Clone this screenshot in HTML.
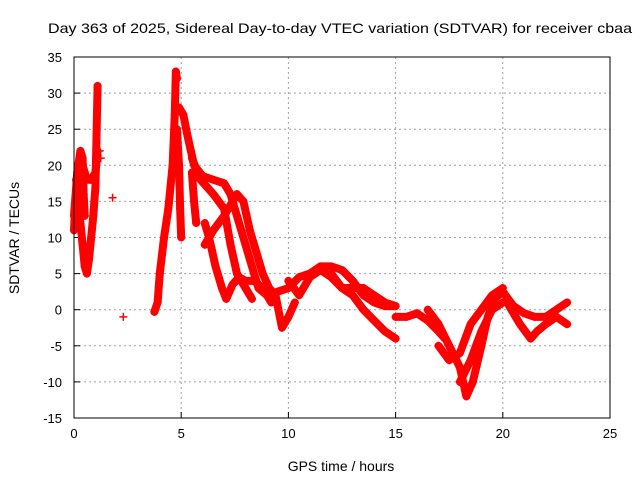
<!DOCTYPE html>
<html><head><meta charset="utf-8"><style>
body{margin:0;background:#fff}
svg text{font-family:"Liberation Sans",sans-serif;fill:#000}
</style></head><body>
<svg id="chart" width="640" height="480" xmlns="http://www.w3.org/2000/svg">
<rect width="640" height="480" fill="#fff"/>
<text x="340" y="33" font-size="14" text-anchor="middle" textLength="584" lengthAdjust="spacingAndGlyphs">Day 363 of 2025, Sidereal Day-to-day VTEC variation (SDTVAR) for receiver cbaa</text>
<g id="grid"></g>
<g id="ticks"></g>
<g id="series"></g>
<rect x="74" y="57" width="536" height="361" fill="none" stroke="#000" stroke-width="1"/>
<text transform="translate(19,238) rotate(-90)" font-size="14" text-anchor="middle">SDTVAR / TECUs</text>
<text x="341" y="471" font-size="14" text-anchor="middle">GPS time / hours</text>
</svg>
<script>
const xTicks = [0,5,10,15,20,25];
const yTicks = [35,30,25,20,15,10,5,0,-5,-10,-15];
const trackEarlyA = [[0,11],[0.05,14],[0.1,16],[0.2,17],[0.3,18],[0.4,20],[0.5,19],[0.6,18],[0.8,18],[1.0,19],[1.1,22]];
const trackEarlyB = [[0.1,18],[0.2,15],[0.3,12],[0.4,9],[0.5,6],[0.6,5],[0.7,7],[0.8,10],[0.9,13],[1.0,17],[1.05,24],[1.1,31]];
const trackEarlyC = [[0,13],[0.15,19],[0.3,22],[0.4,21],[0.45,16],[0.5,13]];
const trackIsolated = [[1.2,22],[1.25,21],[1.8,15.5],[2.3,-1]];
const trackRise = [[3.75,-0.3],[3.9,1],[4.0,5],[4.2,10],[4.4,14],[4.6,20],[4.7,27],[4.75,33],[4.8,32]];
const trackDrop = [[4.8,25],[4.9,20],[4.95,14],[5.0,10]];
const trackDrop2 = [[5.5,19],[5.6,15],[5.7,12]];
const trackMain = [[4.9,28],[5.1,27],[5.3,24],[5.6,20],[6.0,18.5],[6.5,18],[7.0,17.5],[7.3,16],[7.6,13],[8.0,9],[8.3,6],[8.6,3],[9.0,2],[9.5,2.5],[10,3]];
const trackS2 = [[5.5,21],[5.9,18],[6.2,17],[6.5,16],[7.0,14],[7.3,9],[7.6,5],[8.0,3],[8.3,1.5]];
const trackS3 = [[6.1,12],[6.3,10],[6.6,6],[6.9,3],[7.1,1.5],[7.4,3.5],[7.7,4.5],[8.0,4],[8.4,4],[8.8,3],[9.2,1]];
const trackS4 = [[6.1,9],[6.5,11],[7.0,13],[7.6,16],[7.9,15],[8.2,11],[8.5,8],[8.8,5],[9.1,3],[9.4,2]];
const trackDip = [[9.4,2],[9.7,-2.5],[10.0,-1],[10.3,1]];
const trackMid1 = [[10,3],[10.5,4.5],[11,5],[11.5,6],[12,6],[12.5,5.5],[13,4],[13.5,2],[14,1],[14.5,0.5],[15,0.5]];
const trackMid2 = [[12,5],[12.5,3],[13,2],[13.5,0],[14,-1.5],[14.5,-3],[15,-4]];
const trackMid3 = [[10,4],[10.5,2],[11,4.5],[11.5,5.5],[12,4.5],[12.5,3],[13,3],[13.5,3],[14,2],[14.5,1],[15,0.5]];
const trackLate1 = [[15,-1],[15.5,-1],[16,-0.5],[16.5,-1.5],[17,-3],[17.3,-4]];
const trackLate2 = [[16.5,0],[17,-2],[17.5,-5],[18,-8],[18.3,-12],[18.6,-10],[19,-5],[19.3,-1],[19.6,1.5],[20,2.5]];
const trackLate3 = [[17,-5],[17.5,-7],[18,-6],[18.5,-2],[19,0],[19.5,2],[20,3]];
const trackLate4 = [[18,-10],[18.5,-7],[19,-3],[19.5,0],[20,1]];
const trackEnd1 = [[20,2.5],[20.5,0.5],[21,-0.5],[21.5,-1],[22,-1],[22.5,0],[23,1]];
const trackEnd2 = [[20.2,1],[20.8,-2],[21.3,-4],[21.6,-3],[22,-2],[22.5,-1],[23,-2]];
const tracks = [trackEarlyA,trackEarlyB,trackEarlyC,trackRise,trackDrop,trackDrop2,trackMain,trackS2,trackS3,trackS4,trackDip,trackMid1,trackMid2,trackMid3,trackLate1,trackLate2,trackLate3,trackLate4,trackEnd1,trackEnd2];

const NS="http://www.w3.org/2000/svg";
const L=74,R=610,T=57,B=418;
function xs(v){return L+(v-0)/(25-0)*(R-L);}
function ys(v){return B-(v+15)/(35+15)*(B-T);}
function mk(tag,attrs,parent){const e=document.createElementNS(NS,tag);for(const k in attrs)e.setAttribute(k,attrs[k]);parent.appendChild(e);return e;}
const grid=document.getElementById('grid'),ticks=document.getElementById('ticks'),series=document.getElementById('series');
xTicks.forEach(t=>{
  const x=xs(t);
  if(t>0&&t<25){const g=mk('line',{x1:x,x2:x,y1:T,y2:B,stroke:'#a0a0a0','stroke-dasharray':'2,3'},grid);
  
  }
  const tk=mk('line',{x1:x,x2:x,y1:B,y2:B-6,stroke:'#000'},ticks);
  
  
  const lb=mk('text',{x:x,y:B+20,'font-size':13,'text-anchor':'middle'},ticks);lb.textContent=t;
  
  
});
yTicks.forEach(t=>{
  const y=ys(t);
  if(t<35&&t>-15){const g=mk('line',{x1:L,x2:R,y1:y,y2:y,stroke:'#a0a0a0','stroke-dasharray':'2,3'},grid);
  
  }
  const tk=mk('line',{x1:L,x2:L+6,y1:y,y2:y,stroke:'#000'},ticks);
  
  
  const lb=mk('text',{x:L-12,y:y+5,'font-size':13,'text-anchor':'end'},ticks);lb.textContent=t;
  
  
});
tracks.forEach(tr=>{
  const p=mk('polyline',{points:tr.map(d=>xs(d[0])+','+ys(d[1])).join(' '),fill:'none',stroke:'#ff0000','stroke-width':8,'stroke-linejoin':'round','stroke-linecap':'round'},series);
  
  
  tr.forEach(d=>{
    const x=xs(d[0]),y=ys(d[1]);
    const m=mk('path',{d:`M${x-4},${y}H${x+4}M${x},${y-4}V${y+4}`,stroke:'#ff0000','stroke-width':1.5},series);
    
    
  });
});
trackIsolated.forEach(d=>{
  const x=xs(d[0]),y=ys(d[1]);
  const m=mk('path',{d:`M${x-4},${y}H${x+4}M${x},${y-4}V${y+4}`,stroke:'#ff0000','stroke-width':1.5},series);
  
  
});
</script>
</body></html>
